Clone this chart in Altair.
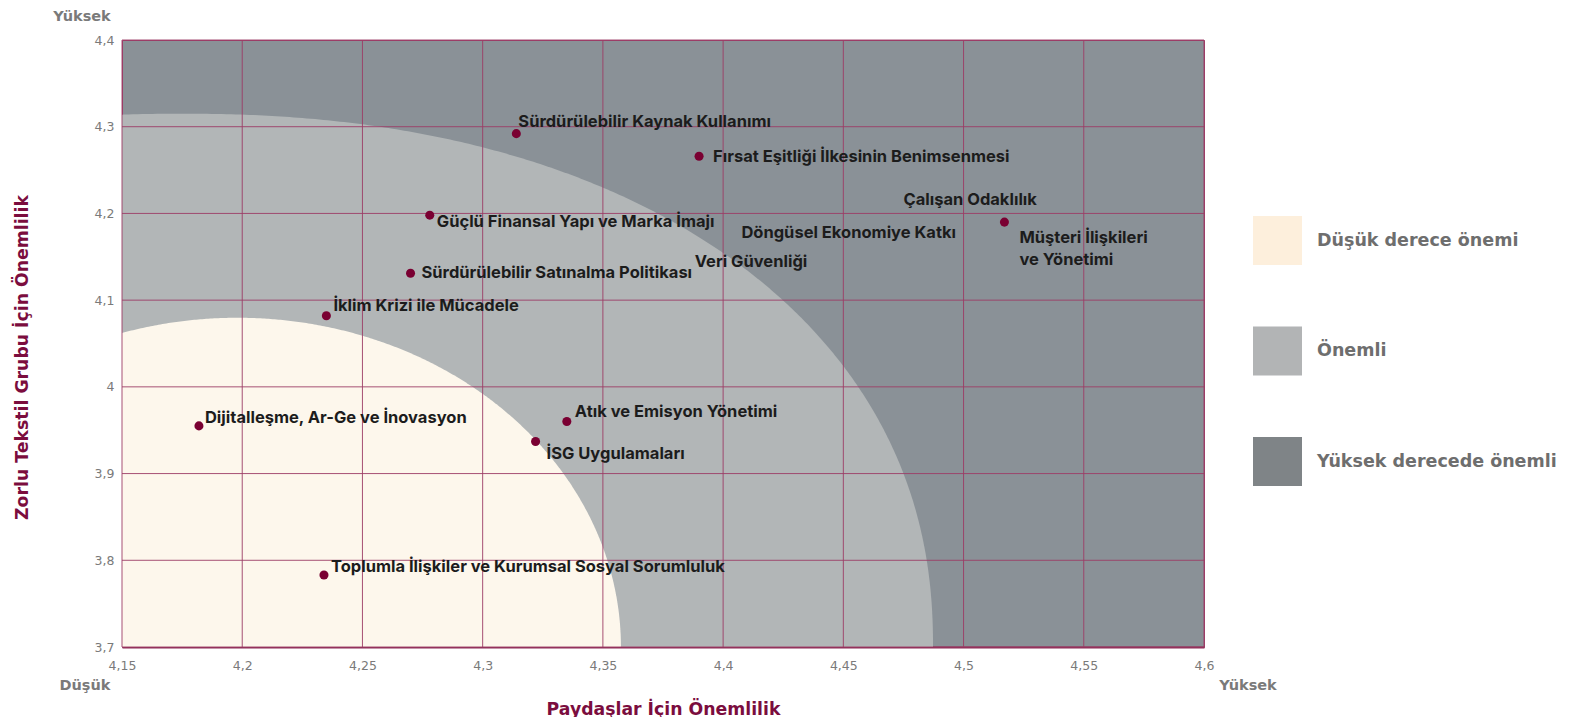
import altair as alt
import pandas as pd
import numpy as np

# ---------------- data ----------------
topics = [
    "Sürdürülebilir Kaynak Kullanımı",
    "Fırsat Eşitliği İlkesinin Benimsenmesi",
    "Güçlü Finansal Yapı ve Marka İmajı",
    "Sürdürülebilir Satınalma Politikası",
    "İklim Krizi ile Mücadele",
    "Dijitalleşme, Ar-Ge ve İnovasyon",
    "Atık ve Emisyon Yönetimi",
    "İSG Uygulamaları",
    "Toplumla İlişkiler ve Kurumsal Sosyal Sorumluluk",
    "Müşteri İlişkileri\nve Yönetimi",
]
stakeholder = [4.314, 4.390, 4.278, 4.270, 4.235, 4.182, 4.335, 4.322, 4.234, 4.517]
company = [4.292, 4.266, 4.198, 4.131, 4.082, 3.955, 3.960, 3.937, 3.783, 4.190]
# label offsets from the dot, in pixels (right, down)
label_dx = [2, 14, 7, 11, 7, 6, 8, 11, 7, 15]
label_dy = [-12, 1, 7, 0, -10, -8, -10, 13, -8, 16]

# topics shown as text only (left edge of text)
text_only = ["Çalışan Odaklılık", "Döngüsel Ekonomiye Katkı", "Veri Güvenliği"]
text_only_x = [4.475, 4.4076, 4.3882]
text_only_y = [4.2154, 4.178, 4.144]

x_ticks = [4.15, 4.2, 4.25, 4.3, 4.35, 4.4, 4.45, 4.5, 4.55, 4.6]
y_ticks = [3.7, 3.8, 3.9, 4.0, 4.1, 4.2, 4.3, 4.4]

legend_labels = ["Düşük derece önemi", "Önemli", "Yüksek derecede önemli"]
legend_colors = ["#fdefdc", "#b2b4b5", "#7f8487"]

# background zones (superellipse quarter shapes anchored on the bottom axis)
zone_cx = [4.175, 4.198]
zone_a = [0.3123, 0.1595]
zone_b = [0.615, 0.3797]
zone_p = [2.2, 2.0]
zone_colors = ["#b2b6b7", "#fdf7ec"]
dark_color = "#8a9197"

X0, X1 = 4.15, 4.6
Y0, Y1 = 3.7, 4.4
W, H = 1082, 607

# ---------------- frames ----------------
def zone_frame(cx, a, b, p):
    t = np.linspace(0, np.pi, 600)
    c = np.cos(t)
    s = np.sin(t)
    xs = cx + a * np.sign(c) * np.abs(c) ** (2 / p)
    ys = Y0 + b * np.abs(s) ** (2 / p)
    keep = xs >= X0
    xs, ys = xs[keep], ys[keep]
    dx0 = abs(X0 - cx) / a
    y_left = Y0 + b * max(0.0, 1 - dx0 ** p) ** (1 / p)
    xs = np.append(xs, X0)
    ys = np.append(ys, y_left)
    df = pd.DataFrame({"x": xs, "y": ys})
    df["base"] = Y0
    return df.sort_values("x")

zone_dfs = [zone_frame(zone_cx[i], zone_a[i], zone_b[i], zone_p[i]) for i in range(2)]

px_x = (X1 - X0) / W
px_y = (Y1 - Y0) / H

pts = pd.DataFrame({"topic": topics, "x": stakeholder, "y": company,
                    "dx": label_dx, "dy": label_dy})
pts["lx"] = pts["x"] + pts["dx"] * px_x
pts["ly"] = pts["y"] - pts["dy"] * px_y

extra = pd.DataFrame({"topic": text_only, "lx": text_only_x, "ly": text_only_y})

corner = pd.DataFrame({
    "text": ["Yüksek", "Düşük", "Yüksek"],
    "ax": [X0, X0, X1], "ay": [Y1, Y0, Y0],
    "dx": [-40, -37, 44], "dy": [-19.5, 43, 43],
})
corner["lx"] = corner["ax"] + corner["dx"] * px_x
corner["ly"] = corner["ay"] - corner["dy"] * px_y

xt = pd.DataFrame({"v": x_ticks})
yt = pd.DataFrame({"v": y_ticks})
leg = pd.DataFrame({"zone": legend_labels, "x": [X0] * 3, "y": [Y0] * 3})

# ---------------- encodings ----------------
MAROON = "#7b0d3e"
GRID = "#9c3d66"
AX_FONT = "DejaVu Sans"
xscale = alt.Scale(domain=[X0, X1], nice=False, zero=False)
yscale = alt.Scale(domain=[Y0, Y1], nice=False, zero=False)
xaxis = alt.Axis(values=x_ticks, grid=False, ticks=False,
                 labelExpr="replace(toString(datum.value), '.', ',')",
                 labelFont=AX_FONT, labelFontSize=12.5, labelColor="#7a7a7a",
                 labelPadding=12, labelFlush=False,
                 domain=True, domainColor="#8c2a55", domainWidth=2,
                 title="Paydaşlar İçin Önemlilik", titleFont=AX_FONT,
                 titleFontSize=17.3, titleFontWeight="bold", titleColor=MAROON,
                 titleY=62, titleBaseline="middle")
yaxis = alt.Axis(values=y_ticks, grid=False, ticks=False,
                 labelExpr="replace(toString(datum.value), '.', ',')",
                 labelFont=AX_FONT, labelFontSize=12.5, labelColor="#7a7a7a",
                 labelPadding=8, labelFlush=False, domain=False,
                 title="Zorlu Tekstil Grubu İçin Önemlilik", titleFont=AX_FONT,
                 titleFontSize=17.3, titleFontWeight="bold", titleColor=MAROON,
                 titleX=-100, titleY=317, titleBaseline="middle", titleAngle=-90)

def X(f):
    return alt.X(f, type="quantitative", scale=xscale, axis=xaxis)

def Y(f):
    return alt.Y(f, type="quantitative", scale=yscale, axis=yaxis)

layers = []
for i in range(2):
    layers.append(
        alt.Chart(zone_dfs[i]).mark_area(color=zone_colors[i], interpolate="linear").encode(
            x=X("x"), y=Y("y"), y2="base")
    )

layers.append(alt.Chart(xt).mark_rule(color=GRID, strokeWidth=1, opacity=0.9).encode(x=X("v")))
layers.append(alt.Chart(yt).mark_rule(color=GRID, strokeWidth=1, opacity=0.9).encode(y=Y("v")))

layers.append(alt.Chart(pts).mark_circle(size=82, color="#7a0032", opacity=1).encode(
    x=X("x"), y=Y("y")))

label_style = dict(align="left", baseline="middle", font="Inter", fontSize=16.5,
                   fontWeight="bold", color="#1c1c1c", lineBreak="\n", lineHeight=21.5)
layers.append(alt.Chart(pts).mark_text(**label_style).encode(
    x=X("lx"), y=Y("ly"), text="topic"))
layers.append(alt.Chart(extra).mark_text(**label_style).encode(
    x=X("lx"), y=Y("ly"), text="topic"))

layers.append(alt.Chart(corner).mark_text(align="center", baseline="alphabetic",
                                           font=AX_FONT, fontSize=14.5,
                                           fontWeight="bold", color="#7a7a7a").encode(
    x=X("lx"), y=Y("ly"), text="text"))

layers.append(alt.Chart(leg).mark_square(opacity=0, size=1).encode(
    x=X("x"), y=Y("y"),
    color=alt.Color("zone:N",
                    scale=alt.Scale(domain=legend_labels, range=legend_colors),
                    sort=legend_labels,
                    legend=alt.Legend(title=None, orient="none", legendX=1131, legendY=176,
                                      symbolType="square", symbolSize=2401,
                                      symbolStrokeWidth=0, symbolOpacity=1,
                                      labelFont=AX_FONT, labelFontSize=17.5,
                                      labelFontWeight="bold", labelColor="#6e6e6e",
                                      labelOffset=15, rowPadding=61.5, labelLimit=400))))

chart = alt.layer(*layers).properties(
    width=W, height=H,
    padding={"left": 114, "top": 32, "right": 364, "bottom": 70},
    autosize=alt.AutoSizeParams(type="none"),
).configure_view(fill=dark_color, stroke=GRID, strokeWidth=1)

chart.save("out.html", embed_options={"renderer": "svg", "actions": False})
